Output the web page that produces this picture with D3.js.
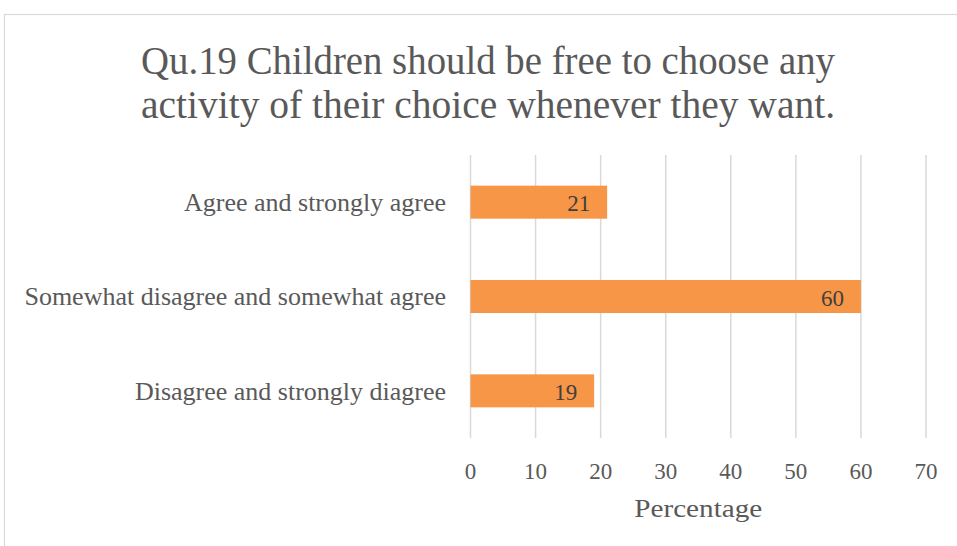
<!DOCTYPE html>
<html><head><meta charset="utf-8">
<script src="https://cdn.jsdelivr.net/npm/d3@7"></script>
<style>body{margin:0;background:#fff;}svg{display:block;}</style>
</head><body>
<svg id="chart" width="957" height="546"></svg>
<script>
const titleLines = ["Qu.19 Children should be free to choose any", "activity of their choice whenever they want."];
const categories = ["Agree and strongly agree", "Somewhat disagree and somewhat agree", "Disagree and strongly diagree"];
const values = [21, 60, 19];
const xTicks = [0, 10, 20, 30, 40, 50, 60, 70];
const xLabel = "Percentage";

const font = "'Liberation Serif', 'DejaVu Serif', serif";
const svg = d3.select("#chart");
const W = 957, H = 546;
const m = {left: 470.5, right: 926, top: 155, bottom: 438};

svg.append("rect").attr("x", 4.5).attr("y", 14.5).attr("width", W + 10).attr("height", H + 10)
  .attr("fill", "#fff").attr("stroke", "#d9d9d9").attr("stroke-width", 1.2);

const x = d3.scaleLinear().domain([0, 70]).range([m.left, m.right]);
const y = d3.scaleBand().domain(categories).range([m.top, m.bottom]).paddingInner(0.65).paddingOuter(0.325);

// gridlines
svg.append("g").selectAll("line").data(xTicks).join("line")
  .attr("x1", d => x(d)).attr("x2", d => x(d))
  .attr("y1", m.top).attr("y2", m.bottom)
  .attr("stroke", "#d9d9d9").attr("stroke-width", 1.5);

// bars
svg.append("g").selectAll("rect").data(values).join("rect")
  .attr("x", x(0)).attr("y", (d, i) => y(categories[i]))
  .attr("width", d => x(d) - x(0)).attr("height", y.bandwidth())
  .attr("fill", "#f79646");

// value labels
svg.append("g").selectAll("text").data(values).join("text")
  .attr("x", d => x(d) - 17).attr("y", (d, i) => y(categories[i]) + y.bandwidth() / 2 + 9)
  .attr("text-anchor", "end")
  .attr("font-family", font).attr("font-size", 23).attr("fill", "#404040")
  .text(d => d);

// category labels (slightly widened to mimic Cambria)
const catG = svg.append("g").attr("transform", "translate(446,0) scale(1.04,1)");
catG.selectAll("text").data(categories).join("text")
  .attr("x", 0).attr("y", d => y(d) + y.bandwidth() / 2 + 9)
  .attr("text-anchor", "end")
  .attr("font-family", font).attr("font-size", 25).attr("fill", "#595959")
  .text(d => d);

// x tick labels
svg.append("g").selectAll("text").data(xTicks).join("text")
  .attr("x", d => x(d)).attr("y", 479)
  .attr("text-anchor", "middle")
  .attr("font-family", font).attr("font-size", 23).attr("fill", "#595959")
  .text(d => d);

svg.append("text").attr("x", x(35)).attr("y", 517).attr("text-anchor", "middle")
  .attr("font-family", font).attr("font-size", 26).attr("fill", "#595959")
  .attr("textLength", 128).attr("lengthAdjust", "spacingAndGlyphs").text(xLabel);

svg.append("g").selectAll("text").data(titleLines).join("text")
  .attr("x", 488).attr("y", (d, i) => 74 + i * 44).attr("text-anchor", "middle")
  .attr("font-family", font).attr("font-size", 41).attr("fill", "#595959")
  .attr("textLength", 694).attr("lengthAdjust", "spacingAndGlyphs")
  .text(d => d);
</script>
</body></html>
